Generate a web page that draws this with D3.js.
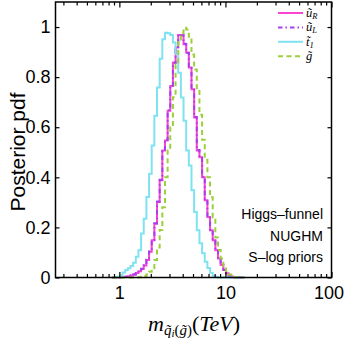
<!DOCTYPE html>
<html>
<head>
<meta charset="utf-8">
<script src="https://cdn.jsdelivr.net/npm/d3@7"></script>
<style>
  body { margin: 0; background: #fff; }
  svg { display: block; }
</style>
</head>
<body>
<svg id="chart" width="345" height="339"></svg>
<script>
// histogram bins in log10(TeV): first edge and width
const binLogStart = -0.07;
const binLogWidth = 0.025;

// posterior pdf per bin
const uR = [0, 0, 0, 0.001, 0.002, 0.003, 0.005, 0.008, 0.012, 0.018,
            0.025, 0.034, 0.048, 0.07, 0.103, 0.149, 0.215, 0.301, 0.388, 0.507,
            0.547, 0.666, 0.765, 0.858, 0.918, 0.968, 0.968, 0.931, 0.898, 0.838,
            0.752, 0.639, 0.507, 0.48, 0.40, 0.308, 0.242, 0.189, 0.149, 0.109,
            0.076, 0.05, 0.03, 0.017, 0.007, 0.003, 0, 0, 0, 0];
const uL = [0, 0, 0, 0.001, 0.002, 0.003, 0.005, 0.008, 0.012, 0.018,
            0.026, 0.035, 0.049, 0.071, 0.104, 0.15, 0.217, 0.303, 0.39, 0.505,
            0.55, 0.668, 0.767, 0.856, 0.92, 0.97, 0.966, 0.933, 0.896, 0.836,
            0.75, 0.641, 0.509, 0.478, 0.402, 0.31, 0.24, 0.19, 0.147, 0.11,
            0.075, 0.051, 0.031, 0.016, 0.007, 0.003, 0, 0, 0, 0];
const t1 = [0, 0.001, 0.003, 0.008, 0.02, 0.03, 0.037, 0.046, 0.059, 0.083,
            0.109, 0.176, 0.235, 0.321, 0.414, 0.527, 0.646, 0.759, 0.873, 0.951,
            0.977, 0.975, 0.968, 0.938, 0.893, 0.818, 0.719, 0.626, 0.507, 0.447,
            0.348, 0.262, 0.189, 0.137, 0.097, 0.063, 0.038, 0.019, 0.006, 0.002,
            0, 0, 0, 0, 0, 0, 0, 0, 0, 0];
const gl = [0, 0, 0, 0, 0, 0, 0, 0, 0, 0,
            0.001, 0.003, 0.006, 0.012, 0.023, 0.037, 0.07, 0.12, 0.19, 0.28,
            0.40, 0.507, 0.6, 0.72, 0.85, 0.94, 0.975, 0.997, 0.99, 0.95,
            0.89, 0.83, 0.75, 0.65, 0.55, 0.47, 0.40, 0.32, 0.24, 0.16,
            0.11, 0.076, 0.045, 0.025, 0.012, 0.005, 0.002, 0, 0, 0];

const yTicks = [0, 0.2, 0.4, 0.6, 0.8, 1];
const xLabelTicks = [1, 10, 100];
const notes = ['Higgs\u2013funnel', 'NUGHM', 'S\u2013log priors'];

const series = [
  {key: 'uR', base: 'u\u0303', sub: 'R', data: uR, color: '#fb45d0', dash: null},
  {key: 'uL', base: 'u\u0303', sub: 'L', data: uL, color: '#a63ef0', dash: '4.5,3,1.5,3'},
  {key: 't1', base: 't\u0303', sub: '1', data: t1, color: '#7fe2f1', dash: null},
  {key: 'g',  base: 'g\u0303', sub: '',  data: gl, color: '#9ccf3c', dash: '5,3.5'}
];

const svg = d3.select('#chart');
const pLeft = 55.5, pRight = 331.5, pTop = 2, pBottom = 277.5;

const x = d3.scaleLog().domain([0.25, 100]).range([pLeft, pRight]);
const y = d3.scaleLinear().domain([0, 1.1]).range([pBottom, pTop]);

const sansFont = '"Liberation Sans", Arial, sans-serif';
const serifFont = '"Liberation Serif", "Times New Roman", serif';

// step line per series
const line = d3.line()
  .x(d => x(d[0]))
  .y(d => y(d[1]))
  .curve(d3.curveStepAfter);

const plot = svg.append('g');

series.forEach(s => {
  const pts = s.data.map((v, i) => [Math.pow(10, binLogStart + i * binLogWidth), v]);
  pts.push([Math.pow(10, binLogStart + s.data.length * binLogWidth), s.data[s.data.length - 1]]);
  plot.append('path')
    .attr('d', line(pts))
    .attr('fill', 'none')
    .attr('stroke', s.color)
    .attr('stroke-width', 2)
    .attr('stroke-dasharray', s.dash);
});

// axes, ticks pointing inward
const minor = x.ticks().filter(t => !xLabelTicks.includes(t));

function xAxis(g, orient, pos) {
  const ax = orient === 'bottom' ? d3.axisBottom(x) : d3.axisTop(x);
  g.attr('transform', `translate(0,${pos})`)
    .call(ax.tickValues(xLabelTicks).tickSizeInner(-5.5).tickSizeOuter(0)
      .tickPadding(9).tickFormat(orient === 'bottom' ? d3.format('d') : ''));
  g.select('.domain').remove();
  g.selectAll('.tick line').attr('stroke', '#000').attr('stroke-width', 1.2);
  g.selectAll('.mtick').data(minor).enter().append('line')
    .attr('x1', d => x(d)).attr('x2', d => x(d))
    .attr('y1', 0).attr('y2', orient === 'bottom' ? -3.5 : 3.5)
    .attr('stroke', '#000').attr('stroke-width', 1.2);
}

function yAxis(g, orient, pos) {
  const ax = orient === 'left' ? d3.axisLeft(y) : d3.axisRight(y);
  g.attr('transform', `translate(${pos},0)`)
    .call(ax.tickValues(yTicks).tickSizeInner(-4).tickSizeOuter(0)
      .tickPadding(5).tickFormat(orient === 'left' ? d3.format('') : ''));
  g.select('.domain').remove();
  g.selectAll('.tick line').attr('stroke', '#000').attr('stroke-width', 1.2);
}

const fontAxes = g => g.selectAll('text')
  .attr('font-family', sansFont).attr('font-size', 18).attr('fill', '#000');

const xb = svg.append('g').call(xAxis, 'bottom', pBottom).call(fontAxes);
// keep the "100" inside the window, as in the original
xb.selectAll('.tick text').filter(d => d === 100).attr('dx', -3);
svg.append('g').call(xAxis, 'top', pTop);
svg.append('g').call(yAxis, 'left', pLeft).call(fontAxes);
svg.append('g').call(yAxis, 'right', pRight);

svg.append('rect')
  .attr('x', pLeft).attr('y', pTop)
  .attr('width', pRight - pLeft).attr('height', pBottom - pTop)
  .attr('fill', 'none').attr('stroke', '#000').attr('stroke-width', 1.5);

// legend
const leg = svg.append('g').attr('transform', 'translate(278,13)');
series.forEach((s, i) => {
  const row = leg.append('g').attr('transform', `translate(0,${i * 14.4})`);
  row.append('line')
    .attr('x1', 0).attr('x2', 25).attr('y1', 0).attr('y2', 0)
    .attr('stroke', s.color).attr('stroke-width', 2)
    .attr('stroke-dasharray', s.dash);
  const t = row.append('text')
    .attr('x', 28).attr('y', 4)
    .attr('font-family', serifFont).attr('font-size', 12.5)
    .attr('font-style', 'italic');
  t.append('tspan').text(s.base);
  if (s.sub) t.append('tspan').attr('font-size', 8.5).attr('dy', 2).text(s.sub);
});

// annotations
svg.append('g').selectAll('text')
  .data(notes).enter().append('text')
  .attr('x', 323).attr('y', (d, i) => 219 + i * 21.5)
  .attr('text-anchor', 'end')
  .attr('font-family', sansFont).attr('font-size', 14)
  .text(d => d);

// axis titles
svg.append('text')
  .attr('transform', 'translate(25,152) rotate(-90)')
  .attr('text-anchor', 'middle')
  .attr('font-family', sansFont).attr('font-size', 21)
  .text('Posterior pdf');

const xt = svg.append('text')
  .attr('x', 194).attr('y', 331)
  .attr('text-anchor', 'middle')
  .attr('font-family', serifFont).attr('font-size', 22);
xt.append('tspan').attr('font-style', 'italic').text('m');
xt.append('tspan').attr('font-style', 'italic').attr('font-size', 15).attr('dy', 4).text('q\u0303');
xt.append('tspan').attr('font-style', 'italic').attr('font-size', 11).attr('dy', 2).text('i');
xt.append('tspan').attr('font-size', 15).attr('dy', -2).text('(');
xt.append('tspan').attr('font-style', 'italic').attr('font-size', 15).text('g\u0303');
xt.append('tspan').attr('font-size', 15).text(')');
xt.append('tspan').attr('dy', -4).text('(');
xt.append('tspan').attr('font-style', 'italic').text('TeV');
xt.append('tspan').text(')');
</script>
</body>
</html>
